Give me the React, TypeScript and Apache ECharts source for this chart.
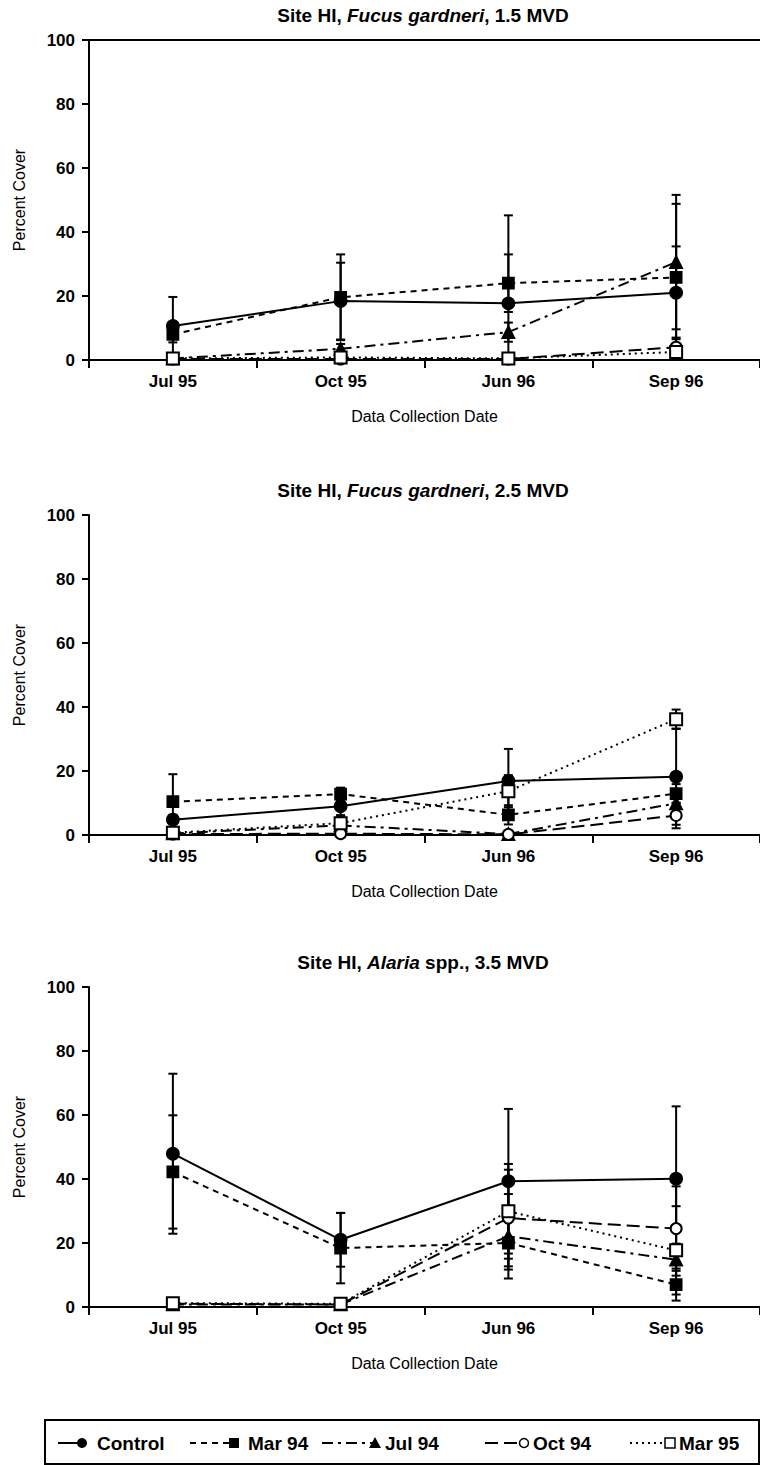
import React, { useEffect, useRef } from "react";
import * as echarts from "echarts";

const categories = ["Jul 95", "Oct 95", "Jun 96", "Sep 96"];
const seriesNames = ["Control", "Mar 94", "Jul 94", "Oct 94", "Mar 95"];
const panelTitles = [
  ["Site HI, ", "Fucus gardneri", ", 1.5 MVD"],
  ["Site HI, ", "Fucus gardneri", ", 2.5 MVD"],
  ["Site HI, ", "Alaria", " spp., 3.5 MVD"],
];

// Panel 1: Fucus gardneri, 1.5 MVD
const p1Control = [10.6, 18.4, 17.7, 21.0];
const p1ControlErr = [9.1, 12.0, 27.5, 14.5];
const p1Mar94 = [8.0, 19.6, 24.0, 25.8];
const p1Mar94Err = [2.5, 13.4, 9.0, 23.0];
const p1Jul94 = [0.5, 3.5, 8.7, 30.6];
const p1Jul94Err = [0.5, 1.5, 3.0, 21.0];
const p1Oct94 = [0.3, 0.3, 0.3, 4.0];
const p1Oct94Err = [0.3, 0.3, 0.3, 3.0];
const p1Mar95 = [0.5, 0.8, 0.5, 2.5];
const p1Mar95Err = [0.5, 0.8, 0.5, 2.0];

// Panel 2: Fucus gardneri, 2.5 MVD
const p2Control = [4.8, 9.0, 16.9, 18.2];
const p2ControlErr = [1.5, 3.0, 10.0, 15.0];
const p2Mar94 = [10.4, 12.8, 6.3, 12.9];
const p2Mar94Err = [8.6, 2.0, 3.0, 3.0];
const p2Jul94 = [0.5, 3.0, 0.3, 9.9];
const p2Jul94Err = [0.5, 1.5, 0.3, 4.0];
const p2Oct94 = [0.3, 0.4, 0.2, 6.1];
const p2Oct94Err = [0.3, 0.4, 0.2, 4.0];
const p2Mar95 = [0.7, 3.7, 13.7, 36.2];
const p2Mar95Err = [0.7, 2.5, 5.0, 3.0];

// Panel 3: Alaria spp., 3.5 MVD
const p3Control = [47.9, 21.0, 39.3, 40.1];
const p3ControlErr = [25.0, 8.4, 22.6, 22.6];
const p3Mar94 = [42.2, 18.4, 20.0, 7.0];
const p3Mar94Err = [17.7, 11.0, 8.3, 5.0];
const p3Jul94 = [0.8, 0.8, 22.1, 14.8];
const p3Jul94Err = [0.8, 0.8, 13.2, 5.0];
const p3Oct94 = [1.0, 0.8, 27.8, 24.5];
const p3Oct94Err = [1.0, 0.8, 15.1, 13.2];
const p3Mar95 = [1.2, 1.0, 29.9, 17.7];
const p3Mar95Err = [1.2, 1.0, 14.8, 13.8];

const panels = [
  { values: [p1Control, p1Mar94, p1Jul94, p1Oct94, p1Mar95], errors: [p1ControlErr, p1Mar94Err, p1Jul94Err, p1Oct94Err, p1Mar95Err] },
  { values: [p2Control, p2Mar94, p2Jul94, p2Oct94, p2Mar95], errors: [p2ControlErr, p2Mar94Err, p2Jul94Err, p2Oct94Err, p2Mar95Err] },
  { values: [p3Control, p3Mar94, p3Jul94, p3Oct94, p3Mar95], errors: [p3ControlErr, p3Mar94Err, p3Jul94Err, p3Oct94Err, p3Mar95Err] },
];

const FONT = '"Liberation Sans", Arial, Helvetica, sans-serif';
const BLACK = "#000";

const styles = [
  { dash: "solid" as any, symbol: "circle", size: 12 },
  { dash: [6, 5], symbol: "rect", size: 11 },
  { dash: [11, 5, 3, 5], symbol: "triangle", size: 12 },
  { dash: [13, 6], symbol: "emptyCircle", size: 11 },
  { dash: [2, 4], symbol: "emptyRect", size: 12 },
];

const gridTops = [40, 515, 987];
const gridLeft = 89;
const gridWidth = 677;
const gridHeight = 320;

function App() {
  const ref = useRef<HTMLDivElement>(null);
  useEffect(() => {
    if (!ref.current) return;
    const chart = echarts.init(ref.current, null, { renderer: "svg" });

    const grids = gridTops.map((t) => ({ left: gridLeft, top: t, width: gridWidth, height: gridHeight }));

    const xAxes: any[] = gridTops.map((_, i) => ({
      type: "category",
      gridIndex: i,
      data: categories,
      boundaryGap: true,
      axisLine: { show: true, lineStyle: { color: BLACK, width: 2 } },
      axisTick: { show: true, length: 8, lineStyle: { color: BLACK, width: 2 } },
      axisLabel: { color: BLACK, fontWeight: "bold", fontSize: 17, fontFamily: FONT, margin: 13 },
      splitLine: { show: false },
      name: "Data Collection Date",
      nameLocation: "middle",
      nameGap: 48,
      nameTextStyle: { color: BLACK, fontSize: 16, fontFamily: FONT },
    }));
    // top border of first panel
    xAxes.push({
      type: "category",
      gridIndex: 0,
      position: "top",
      data: categories,
      axisLine: { show: true, lineStyle: { color: BLACK, width: 2 } },
      axisTick: { show: false },
      axisLabel: { show: false },
      splitLine: { show: false },
    });

    const yAxes = gridTops.map((_, i) => ({
      type: "value",
      gridIndex: i,
      min: 0,
      max: 100,
      interval: 20,
      axisLine: { show: true, lineStyle: { color: BLACK, width: 2 } },
      axisTick: { show: true, length: 7, lineStyle: { color: BLACK, width: 2 } },
      axisLabel: { color: BLACK, fontWeight: "bold", fontSize: 17, fontFamily: FONT, margin: 14 },
      splitLine: { show: false },
      name: "Percent Cover",
      nameLocation: "middle",
      nameRotate: 90,
      nameGap: 62,
      nameTextStyle: { color: BLACK, fontSize: 16, fontFamily: FONT },
    }));

    const series: any[] = [];
    panels.forEach((p, pi) => {
      p.values.forEach((vals, si) => {
        const errs = p.errors[si];
        series.push({
          type: "custom",
          name: seriesNames[si] + " error",
          xAxisIndex: pi,
          yAxisIndex: pi,
          z: 1,
          silent: true,
          data: vals.map((v, ci) => [ci, v, Math.max(0, v - errs[ci]), v + errs[ci]]),
          renderItem: (params: any, api: any) => {
            const x = api.value(0);
            const hi = api.coord([x, api.value(3)]);
            const lo = api.coord([x, api.value(2)]);
            const w = 4.5;
            const st = { stroke: BLACK, lineWidth: 2 };
            return {
              type: "group",
              children: [
                { type: "line", shape: { x1: hi[0], y1: hi[1], x2: lo[0], y2: lo[1] }, style: st },
                { type: "line", shape: { x1: hi[0] - w, y1: hi[1], x2: hi[0] + w, y2: hi[1] }, style: st },
                { type: "line", shape: { x1: lo[0] - w, y1: lo[1], x2: lo[0] + w, y2: lo[1] }, style: st },
              ],
            };
          },
        });
        series.push({
          type: "line",
          name: seriesNames[si],
          xAxisIndex: pi,
          yAxisIndex: pi,
          z: 3,
          data: vals,
          symbol: styles[si].symbol,
          symbolSize: styles[si].size,
          showSymbol: true,
          clip: false,
          lineStyle: { color: BLACK, width: 2, type: styles[si].dash },
          itemStyle: { color: BLACK, borderColor: BLACK, borderWidth: 1.8 },
        });
      });
    });

    const graphic: any[] = [];
    panelTitles.forEach((t, i) => {
      graphic.push({
        type: "text",
        x: 423,
        y: gridTops[i] - 25,
        style: {
          text: `{b|${t[0]}}{i|${t[1]}}{b|${t[2]}}`,
          rich: {
            b: { fontWeight: "bold", fontSize: 19, fontFamily: FONT, fill: BLACK },
            i: { fontWeight: "bold", fontStyle: "italic", fontSize: 19, fontFamily: FONT, fill: BLACK },
          },
          align: "center",
          verticalAlign: "middle",
        },
      });
    });

    // legend box
    const ly = 1443;
    graphic.push({
      type: "rect",
      shape: { x: 45, y: 1420, width: 714, height: 44 },
      style: { fill: "none", stroke: BLACK, lineWidth: 2 },
    });
    const legendItems = [
      { x1: 58, x2: 82, tx: 97 },
      { x1: 190, x2: 234, tx: 248 },
      { x1: 322, x2: 375, tx: 385 },
      { x1: 485, x2: 524, tx: 533 },
      { x1: 630, x2: 670, tx: 679 },
    ];
    legendItems.forEach((it, i) => {
      const dash = styles[i].dash === "solid" ? null : styles[i].dash;
      graphic.push({
        type: "line",
        shape: { x1: it.x1, y1: ly, x2: it.x2, y2: ly },
        style: { stroke: BLACK, lineWidth: 2, lineDash: dash },
      });
      const sym = styles[i].symbol;
      if (sym === "circle") {
        graphic.push({ type: "circle", shape: { cx: it.x2, cy: ly, r: 5 }, style: { fill: BLACK } });
      } else if (sym === "rect") {
        graphic.push({ type: "rect", shape: { x: it.x2 - 5, y: ly - 5, width: 10, height: 10 }, style: { fill: BLACK } });
      } else if (sym === "triangle") {
        graphic.push({ type: "polygon", shape: { points: [[it.x2, ly - 6], [it.x2 + 6, ly + 5], [it.x2 - 6, ly + 5]] }, style: { fill: BLACK } });
      } else if (sym === "emptyCircle") {
        graphic.push({ type: "circle", shape: { cx: it.x2, cy: ly, r: 4.5 }, style: { fill: "#fff", stroke: BLACK, lineWidth: 1.5 } });
      } else {
        graphic.push({ type: "rect", shape: { x: it.x2 - 5, y: ly - 5, width: 10, height: 10 }, style: { fill: "#fff", stroke: BLACK, lineWidth: 1.5 } });
      }
      graphic.push({
        type: "text",
        x: it.tx,
        y: ly,
        style: {
          text: seriesNames[i],
          fontWeight: "bold",
          fontSize: 19,
          fontFamily: FONT,
          fill: BLACK,
          align: "left",
          verticalAlign: "middle",
        },
      });
    });

    chart.setOption({
      animation: false,
      backgroundColor: "#fff",
      grid: grids,
      xAxis: xAxes,
      yAxis: yAxes,
      series,
      graphic,
    });
    return () => chart.dispose();
  }, []);

  return (
    <div style={{ position: "absolute", left: 0, top: 0, width: 760, height: 1465, overflow: "hidden", background: "#fff" }}>
      <div ref={ref} style={{ width: 760, height: 1465 }} />
    </div>
  );
}

export default App;
